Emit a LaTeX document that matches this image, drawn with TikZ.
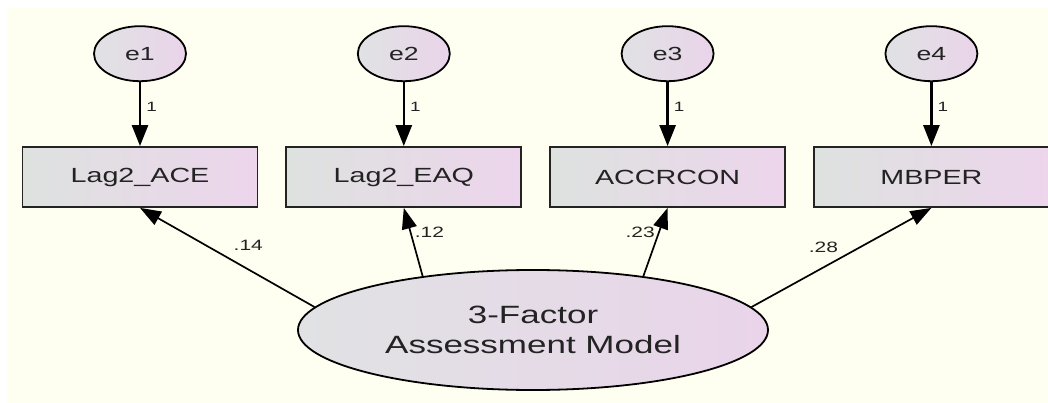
\documentclass[tikz,border=0pt]{standalone}
\usepackage{fontspec}
\setmainfont[FakeStretch=1.4]{Liberation Sans}
\usetikzlibrary{positioning,shapes.geometric,arrows.meta}
\definecolor{bgcream}{RGB}{255,255,241}
\definecolor{boxgray}{RGB}{221,226,223}
\definecolor{boxpink}{RGB}{237,213,236}
\definecolor{ovalgray}{RGB}{224,226,228}
\definecolor{ovalpink}{RGB}{234,212,234}
\definecolor{inkgray}{RGB}{35,35,35}
\tikzset{
  observed/.style={draw=inkgray, line width=1.8pt, left color=boxgray, right color=boxpink, minimum width=235pt, minimum height=60pt, font=\fontsize{20.5}{24}\selectfont, text=inkgray},
  errorterm/.style={ellipse, draw=black, line width=1.8pt, left color=ovalgray, right color=ovalpink, minimum width=92pt, minimum height=55pt, inner sep=0pt, font=\fontsize{19}{22}\selectfont, text=inkgray},
  factor/.style={ellipse, draw=black, line width=1.8pt, left color=ovalgray, right color=ovalpink, minimum width=470pt, minimum height=120pt, align=center, font=\fontsize{25}{30}\selectfont, text=inkgray},
  fixed arrow/.style={line width=2.6pt, -{Triangle[length=21pt,width=16pt]}},
  load arrow/.style={line width=1.7pt, -{Triangle[length=21pt,width=15pt]}},
  coef/.style={font=\fontsize{15}{17}\selectfont, text=inkgray},
  unit/.style={font=\fontsize{13.5}{15}\selectfont, text=inkgray, inner sep=5pt},
}

\begin{document}
\begin{tikzpicture}[x=1pt,y=1pt,node distance=27pt]
%background
\fill[white] (0,0) rectangle (1048,-403);
\fill[bgcream] (7,-8) rectangle (1048,-403);
\useasboundingbox (0,0) rectangle (1048,-403);
%the nodes
\node [observed] (oA) at (140,-177) {Lag2\_ACE};
\node [observed,right=of oA] (oB) {Lag2\_EAQ};
\node [observed,right=of oB] (oC) {ACCRCON};
\node [observed,right=of oC] (oD) {MBPER};
\node [errorterm,above=64pt of oA] (eA) {e1};
\node [errorterm,above=64pt of oB] (eB) {e2};
\node [errorterm,above=64pt of oC] (eC) {e3};
\node [errorterm,above=64pt of oD] (eD) {e4};
\node [factor] (fM) at (533,-330) {3-Factor\\Assessment Model};
%drawings of vectors
\draw[fixed arrow] (eA) -- node[unit,right,pos=0.38] {1} (oA);
\draw[fixed arrow] (eB) -- node[unit,right,pos=0.38] {1} (oB);
\draw[fixed arrow] (eC) -- node[unit,right,pos=0.38] {1} (oC);
\draw[fixed arrow] (eD) -- node[unit,right,pos=0.38] {1} (oD);
\draw[load arrow] (fM.174) -- node[coef,pos=0.62,xshift=42pt] {.14} (oA.south);
\draw[load arrow] (fM.154) -- node[coef,right,pos=0.64] {.12} (oB.south);
\draw[load arrow] (fM.26) -- node[coef,left,pos=0.64] {.23} (oC.south);
\draw[load arrow] (fM.6) -- node[coef,pos=0.6,xshift=-36pt] {.28} (oD.south);
\end{tikzpicture}
\end{document}
